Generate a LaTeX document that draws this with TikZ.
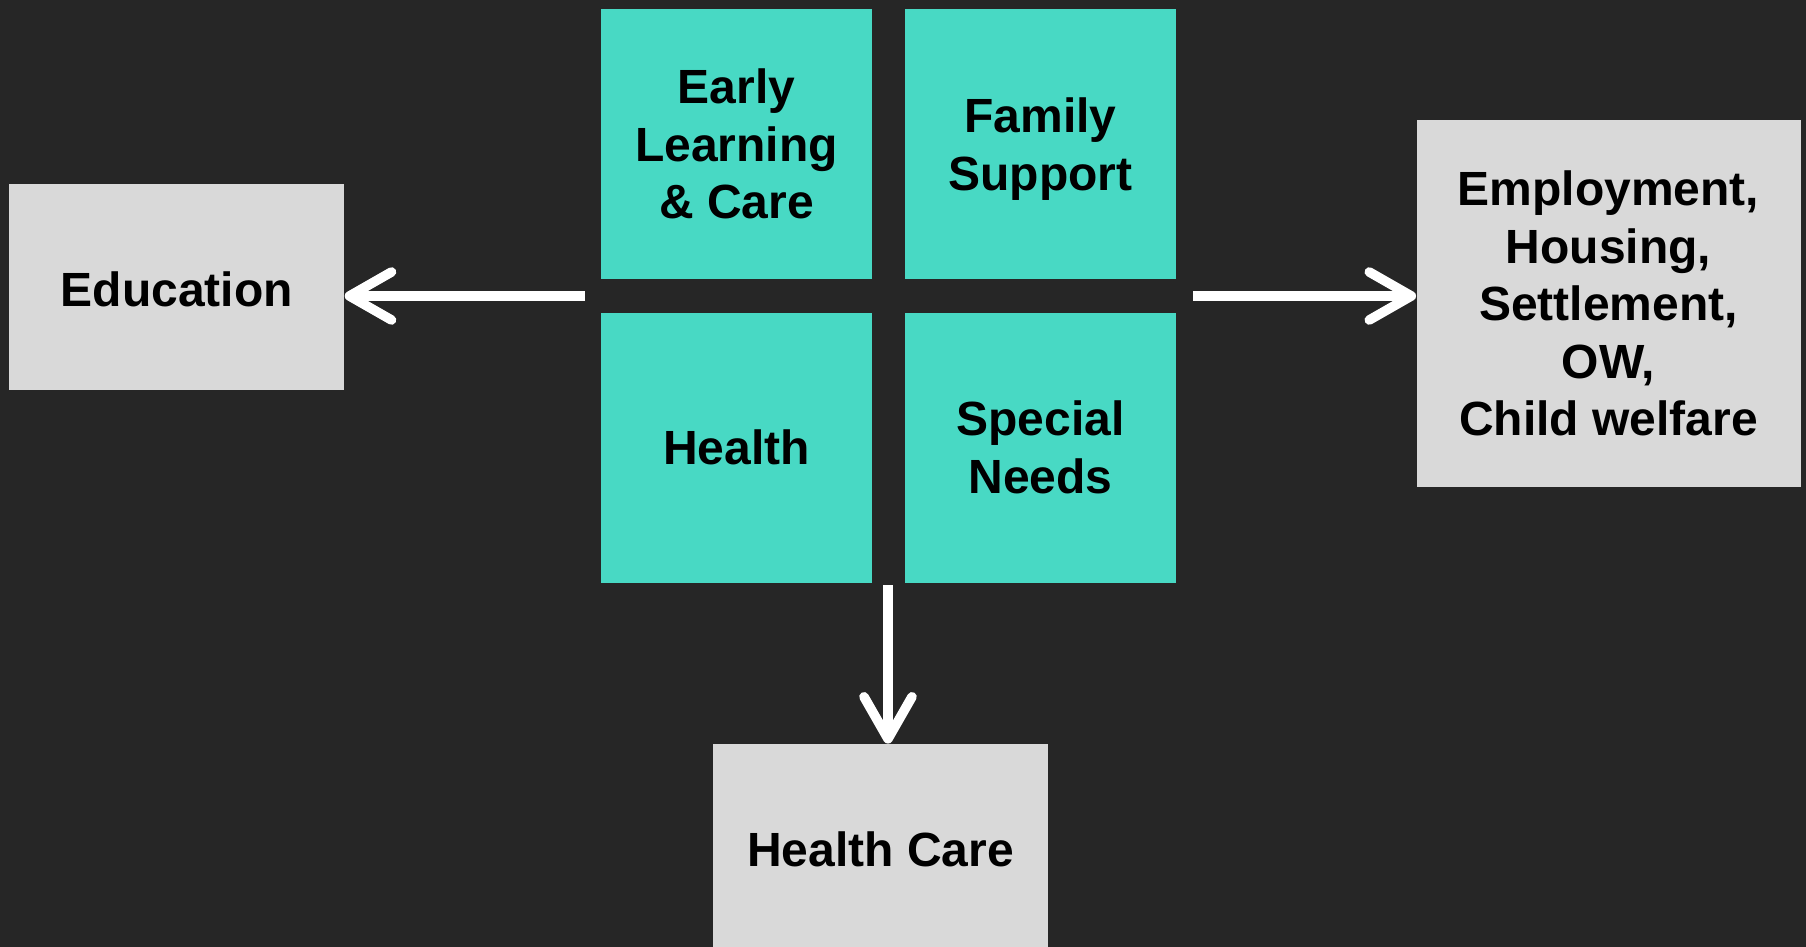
\documentclass[tikz,border=0pt]{standalone}
\usepackage{fontspec}
\setmainfont{Liberation Sans}
\usetikzlibrary{arrows.meta}
\definecolor{bgdark}{HTML}{262626}
\definecolor{tealbox}{HTML}{48D9C4}
\definecolor{greybox}{HTML}{D9D9D9}
\begin{document}
\begin{tikzpicture}[
      x=0.5pt, y=-0.5pt,
      every node/.style={align=center, inner sep=0pt, text=black,
        font=\fontsize{24}{28.8}\selectfont\bfseries},
      tile/.style={fill=tealbox, minimum width=135.5pt, minimum height=135pt},
      outer/.style={fill=greybox},
      flow/.style={draw=white, line width=4.8pt,
        -{Straight Barb[length=21pt, width=24pt, round]}},
    ]
      \fill[bgdark] (0,0) rectangle (1806,947);
      \useasboundingbox (0,0) rectangle (1806,947);
      \node[tile] (early) at (736.5,144) {Early\\Learning\\\& Care};
      \node[tile] (family) at (1040.6,144) {};
      \node (familytext) at (1040.6,149) {Family\\Support};
      \node[tile] (health) at (736.5,447.5) {Health};
      \node[tile] (special) at (1040.6,447.5) {Special\\Needs};
      \node[outer, minimum width=167.5pt, minimum height=103pt] (edu) at (176.8,287.4) {};
      \node (edutext) at (176.8,289.5) {Education};
      \node[outer, minimum width=192pt, minimum height=183.5pt] (emp) at (1608.5,303.5)
        {Employment,\\Housing,\\Settlement,\\OW,\\Child welfare};
      \node[outer, minimum width=167.5pt, minimum height=110pt] (hc) at (880.5,854) {};
      \node (hctext) at (880.5,849) {Health Care};
      \coordinate (lstart) at (585,296);
      \coordinate (rstart) at (1193,296);
      \coordinate (dstart) at (888,585);
      \draw[flow] (lstart) -- (lstart -| edu.east);
      \draw[flow] (rstart) -- (rstart -| emp.west);
      \draw[flow] (dstart) -- (dstart |- hc.north);
\end{tikzpicture}
\end{document}
